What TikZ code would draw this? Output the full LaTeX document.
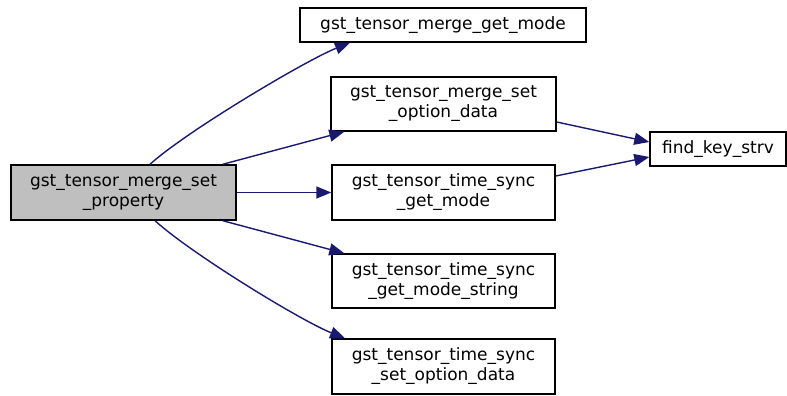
\documentclass[tikz,border=0pt]{standalone}
\usepackage{fontspec}
\setmainfont{DejaVu Sans}
\usetikzlibrary{arrows.meta}
\definecolor{edgeblue}{RGB}{25,25,112}
\definecolor{mainfill}{RGB}{191,191,191}
\tikzset{
  fn/.style={draw=black, line width=1.4pt, fill=white, inner sep=0pt, align=center,
    font=\fontsize{17}{20}\selectfont, minimum width=223pt, minimum height=55pt},
  call/.style={draw=edgeblue, line width=1.4pt, -{Triangle[length=15pt,width=12pt]}}
}
\begin{document}
\begin{tikzpicture}[x=1pt,y=-1pt]
\useasboundingbox (0,0) rectangle (787,396);
\node[fn, fill=mainfill, minimum width=225pt] (main) at (123.5,192.5) {gst\_tensor\_merge\_set\\\_property};
\node[fn, minimum width=286pt, minimum height=34pt] (gm) at (443,25) {gst\_tensor\_merge\_get\_mode};
\node[fn, minimum width=225pt, minimum height=54pt] (sod) at (443.5,104) {gst\_tensor\_merge\_set\\\_option\_data};
\node[fn] (tsgm) at (443.5,192.5) {gst\_tensor\_time\_sync\\\_get\_mode};
\node[fn, minimum height=54pt] (tsgms) at (443.5,281) {gst\_tensor\_time\_sync\\\_get\_mode\_string};
\node[fn] (tsso) at (443.5,366.5) {gst\_tensor\_time\_sync\\\_set\_option\_data};
\node[fn, minimum width=136pt, minimum height=34pt] (fks) at (718,149) {find\_key\_strv};

\draw[call] ([xshift=26.5pt]main.north) .. controls +(35,-32) and +(-45,18) .. ([xshift=-93pt]gm.south);
\draw[call] ([xshift=-14pt]main.north east) -- ([xshift=14pt]sod.south west);
\draw[call] (main.east) -- (tsgm.west);
\draw[call] ([xshift=-14pt]main.south east) -- ([xshift=13pt]tsgms.north west);
\draw[call] ([xshift=31.5pt]main.south) .. controls +(35,32) and +(-45,-18) .. ([xshift=-98.5pt]tsso.north);
\draw[call] ([yshift=-18pt]sod.east) -- ([yshift=7pt]fks.west);
\draw[call] ([yshift=16.5pt]tsgm.east) -- ([yshift=-8pt]fks.west);
\end{tikzpicture}
\end{document}
